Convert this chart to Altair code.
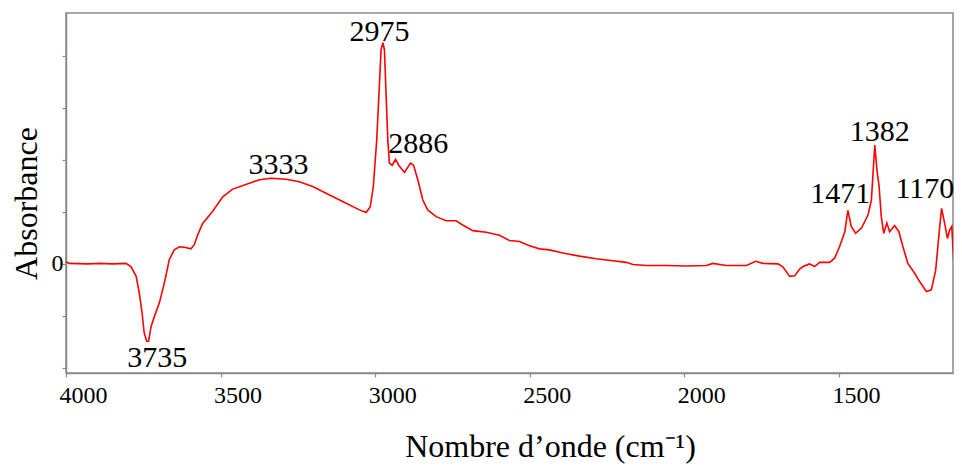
import altair as alt
import pandas as pd

# Spectrum (wavenumber in cm-1, absorbance in arbitrary units)
wavenumber = [4000, 3989, 3930, 3892, 3850, 3806, 3790, 3773, 3763, 3754,
              3747, 3739, 3733, 3725, 3714, 3698, 3682, 3666, 3650, 3633,
              3617, 3596, 3585, 3574, 3558, 3526, 3493, 3461, 3418, 3374,
              3337, 3288, 3245, 3202, 3159, 3105, 3051, 3029, 3016, 3006,
              2995, 2986, 2981, 2975, 2970, 2964, 2959, 2954, 2945, 2934,
              2924, 2905, 2886, 2876, 2862, 2846, 2830, 2803, 2770, 2738,
              2717, 2684, 2641, 2598, 2566, 2533, 2501, 2468, 2436, 2393,
              2339, 2285, 2231, 2188, 2166, 2123, 2058, 1994, 1929, 1908,
              1864, 1799, 1769, 1746, 1697, 1681, 1659, 1643, 1627, 1616,
              1595, 1579, 1562, 1530, 1514, 1498, 1481, 1471, 1460, 1446,
              1427, 1406, 1395, 1384, 1377, 1370, 1363, 1355, 1345, 1336,
              1320, 1306, 1293, 1277, 1255, 1239, 1217, 1201, 1187, 1176,
              1168, 1158, 1149, 1142, 1135, 1128]
absorbance = [0.04, 0.01, 0.00, 0.01, 0.00, 0.01, -0.05, -0.24, -0.56, -0.94,
              -1.33, -1.49, -1.49, -1.21, -1.01, -0.75, -0.37, 0.08, 0.27, 0.33,
              0.32, 0.29, 0.37, 0.56, 0.78, 1.01, 1.29, 1.44, 1.53, 1.62,
              1.65, 1.63, 1.58, 1.49, 1.36, 1.20, 1.04, 0.99, 1.10, 1.49,
              2.38, 3.48, 4.12, 4.26, 4.12, 3.15, 2.38, 1.94, 1.90, 2.01,
              1.90, 1.76, 1.94, 1.90, 1.62, 1.23, 1.04, 0.91, 0.83, 0.83,
              0.75, 0.64, 0.61, 0.55, 0.45, 0.43, 0.35, 0.29, 0.27, 0.21,
              0.15, 0.10, 0.06, 0.03, -0.01, -0.03, -0.03, -0.04, -0.03, 0.01,
              -0.03, -0.03, 0.05, 0.01, 0.00, -0.06, -0.24, -0.23, -0.10, -0.05,
              0.00, -0.05, 0.03, 0.03, 0.11, 0.33, 0.62, 1.03, 0.72, 0.59,
              0.69, 0.94, 1.23, 2.29, 1.81, 1.49, 0.91, 0.59, 0.79, 0.62,
              0.74, 0.62, 0.33, 0.01, -0.18, -0.34, -0.53, -0.50, -0.12, 0.59,
              1.07, 0.78, 0.49, 0.65, 0.72, -0.02]

# Peak annotations
peak_labels = ["3735", "3333", "2975", "2886", "1471", "1382", "1170"]
peak_label_x = [3705, 3313, 2986, 2861, 1496, 1368, 1222]
peak_label_y = [-1.99, 1.74, 4.29, 2.13, 1.17, 2.37, 1.26]

x_ticks = [4000, 3500, 3000, 2500, 2000, 1500]
y_ticks = [-2, -1, 0, 1, 2, 3, 4]

spec = pd.DataFrame({"wn": wavenumber, "A": absorbance})
ann = pd.DataFrame({"label": peak_labels, "wn": peak_label_x, "A": peak_label_y})

FONT = "Liberation Serif, Times New Roman, serif"
GRAY = "#8a8a8a"

x_scale = alt.Scale(domain=[4000, 1131], nice=False, zero=False)
y_scale = alt.Scale(domain=[-2.1, 4.83], nice=False, zero=False)

line = alt.Chart(spec).mark_line(color="#ff0000", strokeWidth=1.6, clip=True).encode(
    x=alt.X("wn:Q", scale=x_scale,
            axis=alt.Axis(values=x_ticks, format="d", title="Nombre d’onde (cm⁻¹)",
                          grid=False, domainColor=GRAY, domainWidth=1.5,
                          tickColor=GRAY, tickSize=4, tickWidth=1.2,
                          labelFont=FONT, labelFontSize=24, labelColor="#000000",
                          labelPadding=6, labelOffset=17, labelFlush=False,
                          titleFont=FONT, titleFontSize=32, titleFontWeight="normal",
                          titleColor="#000000", titleX=484, titleY=83,
                          titleAlign="center", titleBaseline="alphabetic")),
    y=alt.Y("A:Q", scale=y_scale,
            axis=alt.Axis(values=y_ticks, title="Absorbance",
                          labelExpr="datum.value == 0 ? '0' : ''",
                          grid=False, domainColor=GRAY, domainWidth=1.5,
                          tickColor=GRAY, tickSize=4, tickWidth=1.2,
                          labelFont=FONT, labelFontSize=24, labelColor="#000000",
                          labelPadding=-1,
                          titleFont=FONT, titleFontSize=32, titleFontWeight="normal",
                          titleColor="#000000", titleX=-30, titleY=190,
                          titleAngle=-90, titleAlign="center",
                          titleBaseline="alphabetic")),
)

text = alt.Chart(ann).mark_text(font=FONT, fontSize=30, color="#000000",
                                align="center", baseline="alphabetic").encode(
    x=alt.X("wn:Q", scale=x_scale),
    y=alt.Y("A:Q", scale=y_scale),
    text="label:N",
)

chart = alt.layer(line, text).properties(
    width=887, height=360,
    autosize=alt.AutoSizeParams(type="none"),
    padding={"left": 58, "top": 5, "right": 1, "bottom": 92},
).configure_view(stroke=GRAY, strokeWidth=1.5)

chart.save("out.html", embed_options={"renderer": "svg", "actions": False})
